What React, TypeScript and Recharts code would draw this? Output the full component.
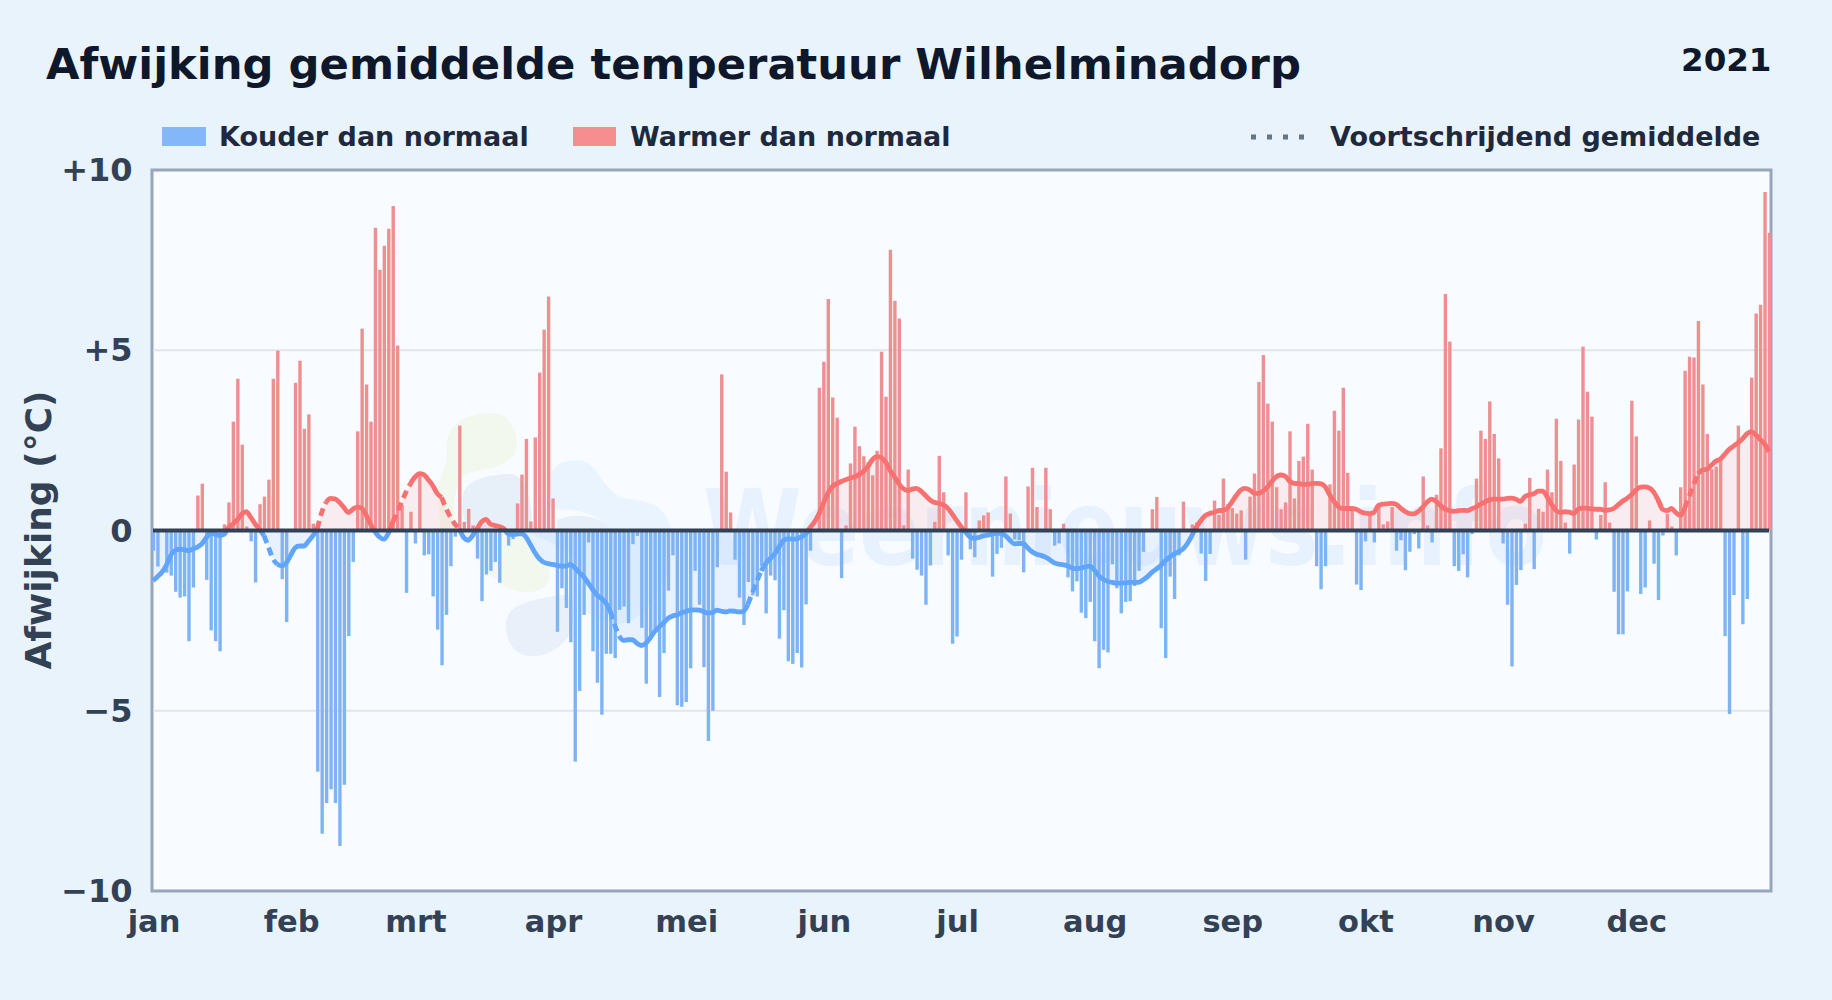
import React from "react";
import { ComposedChart, Bar, Area, Line, XAxis, YAxis, CartesianGrid, ReferenceLine } from "recharts";

const monthLabels = ["jan","feb","mrt","apr","mei","jun","jul","aug","sep","okt","nov","dec"];
const monthStarts = [0,31,59,90,120,151,181,212,243,273,304,334];
const yTicks = [-10,-5,0,5,10];
const yTickLabels: Record<string,string> = {"-10":"\u221210","-5":"\u22125","0":"0","5":"+5","10":"+10"};

const devJan = [-0.56,-1.0,0,-1.17,-1.25,-1.7,-1.86,-1.83,-3.07,-1.58,0.97,1.3,-1.37,-2.77,-3.07,-3.35,0.17,0.78,3.02,4.21,2.38,0.11,-0.3,-1.44,0.73,0.94,1.41,4.21,4.99,-1.35,-2.54];
const devFeb = [0,4.1,4.71,2.82,3.22,0.19,-6.69,-8.41,-7.56,-7.18,-7.56,-8.75,-7.05,-2.93,-0.87,2.75,5.6,4.05,3.02,8.4,7.23,7.9,8.37,9.0,5.13,0.7,-1.73,0.52];
const devMrt = [-0.36,1.58,-0.69,-0.66,-1.83,-2.75,-3.74,-2.34,-0.99,-0.17,2.91,0.24,0.6,0.14,-0.78,-1.96,-1.22,-1.12,-0.87,-1.45,0.05,-0.42,-0.24,0.75,1.55,2.54,0.25,2.58,4.38,5.57,6.49];
const devApr = [0.89,-2.81,-1.6,-2.15,-3.1,-6.41,-4.45,-2.34,-0.33,-3.35,-4.22,-5.11,-3.42,-3.42,-3.54,-2.2,-2.11,-2.57,-0.38,-0.15,-2.7,-4.25,-3.0,-2.75,-4.62,-3.4,-1.67,-0.69,-4.85,-4.89];
const devMei = [-4.76,-3.82,-1.12,-2.06,-3.79,-5.84,-5.0,-1.02,4.33,1.63,0.5,-0.81,-1.86,-2.62,-1.43,-1.8,-1.83,-0.99,-2.3,-1.25,-1.38,-3.0,-2.21,-3.63,-3.7,-3.4,-3.8,-2.05,-0.56,0,3.96];
const devJun = [4.68,6.42,3.69,3.13,-1.32,0.14,1.86,2.88,2.34,2.06,1.9,1.53,2.21,4.96,3.71,7.79,6.37,5.88,0.14,1.69,-0.78,-1.09,-1.25,-2.06,-0.97,0.24,2.07,1.06,-0.69,-3.14];
const devJul = [-2.94,-0.81,1.06,-0.52,-0.74,0.28,0.42,0.5,-1.28,-0.65,-0.48,1.5,0.47,-0.25,-0.27,-1.16,1.22,1.74,0.65,0,1.74,0.59,-0.42,-0.36,0.19,-1.3,-1.69,-1.41,-2.28,-2.43,-1.98];
const devAug = [-3.07,-3.82,-3.31,-3.38,-0.94,-1.6,-2.3,-1.98,-1.96,-1.54,-1.12,-0.59,0,0.59,0.93,-2.71,-3.54,-1.28,-1.9,-0.69,0.8,0,0.17,0.22,-0.64,-1.4,-0.65,0.83,0.43,1.44,0.73];
const devSep = [0.62,0.47,0.56,-0.81,0.94,1.58,4.12,4.87,3.52,3.02,1.2,0.59,0.78,2.75,0.89,1.93,2.05,2.96,1.69,-0.99,-1.63,-0.99,1.28,3.32,2.77,3.96,1.6,0.59,-1.5,-1.65];
const devOkt = [-0.3,0.43,-0.33,0.75,0.17,0.25,0.65,-0.56,-0.27,-1.1,-0.59,-0.1,-0.5,1.5,0.14,-0.33,0.99,2.28,6.56,5.24,-0.99,-1.12,-0.66,-1.3,-0.1,1.44,2.77,2.54,3.58,2.68,2.0];
const devNov = [-0.36,-2.06,-3.77,-1.51,-1.1,0.19,1.46,-1.07,0.6,0.52,1.69,1.06,3.1,1.93,0.22,-0.64,1.83,3.08,5.1,3.85,3.16,-0.25,0.43,1.34,0.22,-1.7,-2.88,-2.88,-1.69,3.6];
const devDec = [2.61,-1.76,-1.58,0.28,-0.92,-1.93,-0.14,0.46,0.11,-0.69,1.2,4.43,4.82,4.8,5.81,4.05,2.68,1.7,1.77,1.96,-2.93,-5.09,-1.79,2.91,-2.6,-1.9,4.24,6.02,6.26,9.39,8.26];

const avgQ1 = [-1.39,-1.28,-1.16,-0.97,-0.69,-0.55,-0.52,-0.53,-0.56,-0.51,-0.46,-0.37,-0.2,-0.08,-0.1,-0.14,-0.11,0.08,0.18,0.3,0.46,0.52,0.37,0.18,0.03,-0.14,-0.46,-0.78,-0.94,-0.98,-0.9,-0.69,-0.48,-0.43,-0.43,-0.3,-0.15,0.05,0.5,0.79,0.89,0.88,0.78,0.64,0.5,0.59,0.65,0.62,0.43,0.18,-0.03,-0.18,-0.24,-0.08,0.24,0.5,0.79,1.07,1.3,1.48,1.58,1.55,1.41,1.25,1.03,0.92,0.62,0.37,0.18,0.05,-0.2,-0.27,-0.14,0.05,0.24,0.31,0.18,0.14,0.11,0.05,-0.09,-0.11,-0.1,-0.09,-0.18,-0.39,-0.61,-0.78,-0.88,-0.92];
const avgQ2 = [-0.94,-0.97,-0.99,-0.99,-0.94,-1.03,-1.16,-1.28,-1.45,-1.63,-1.79,-1.88,-2.01,-2.24,-2.62,-2.93,-3.05,-3.03,-3.03,-3.13,-3.19,-3.13,-2.98,-2.8,-2.68,-2.56,-2.44,-2.37,-2.34,-2.29,-2.25,-2.21,-2.2,-2.21,-2.25,-2.29,-2.28,-2.21,-2.24,-2.26,-2.23,-2.24,-2.26,-2.24,-2.05,-1.73,-1.41,-1.12,-0.92,-0.78,-0.65,-0.46,-0.28,-0.23,-0.24,-0.23,-0.18,-0.1,0.08,0.24,0.46,0.75,1.03,1.22,1.3,1.36,1.41,1.45,1.49,1.55,1.64,1.77,1.96,2.05,2.02,1.9,1.68,1.49,1.3,1.16,1.11,1.15,1.17,1.09,0.97,0.85,0.78,0.76,0.71,0.62,0.46];
const avgQ3 = [0.28,0.11,-0.04,-0.18,-0.22,-0.19,-0.15,-0.13,-0.1,-0.08,-0.08,-0.14,-0.27,-0.37,-0.36,-0.36,-0.48,-0.59,-0.66,-0.69,-0.74,-0.81,-0.9,-0.93,-0.95,-0.98,-1.04,-1.06,-1.04,-1.01,-0.99,-1.09,-1.25,-1.35,-1.41,-1.44,-1.46,-1.46,-1.45,-1.44,-1.44,-1.44,-1.37,-1.28,-1.16,-1.07,-0.97,-0.84,-0.74,-0.65,-0.59,-0.51,-0.36,-0.14,0.09,0.27,0.41,0.47,0.5,0.55,0.56,0.62,0.79,0.97,1.12,1.17,1.13,1.04,1.03,1.09,1.2,1.36,1.49,1.54,1.51,1.37,1.31,1.3,1.28,1.28,1.3,1.31,1.3,1.22,1.0,0.81,0.66,0.61,0.61,0.61,0.59,0.52];
const avgQ4 = [0.48,0.47,0.5,0.69,0.73,0.74,0.75,0.73,0.62,0.53,0.47,0.46,0.53,0.65,0.79,0.87,0.81,0.69,0.6,0.55,0.53,0.55,0.56,0.55,0.6,0.65,0.73,0.79,0.85,0.87,0.87,0.87,0.89,0.9,0.87,0.81,0.94,0.99,1.02,1.09,1.09,0.94,0.73,0.56,0.5,0.52,0.51,0.47,0.59,0.62,0.62,0.6,0.59,0.59,0.56,0.57,0.61,0.71,0.81,0.89,0.99,1.12,1.2,1.21,1.18,1.07,0.85,0.59,0.55,0.61,0.5,0.42,0.62,0.94,1.26,1.58,1.68,1.7,1.81,1.92,1.98,2.11,2.25,2.34,2.43,2.54,2.68,2.74,2.66,2.53,2.4,2.19];

const dailyDeviation = [...devJan,...devFeb,...devMrt,...devApr,...devMei,...devJun,...devJul,...devAug,...devSep,...devOkt,...devNov,...devDec];
const movingAverage = [...avgQ1,...avgQ2,...avgQ3,...avgQ4];
const dottedRanges = [[25,28],[37,39],[54,58],[65,69],[103,105],[134,137],[339,340],[345,348]];

const inDotted = (i: number) => dottedRanges.some(([a,b]) => i >= a && i <= b);
const inDottedInner = (i: number) => dottedRanges.some(([a,b]) => i > a && i < b);

const rows = dailyDeviation.map((v, i) => {
  const avg = movingAverage[Math.min(i, movingAverage.length - 1)];
  return {
    day: i,
    warm: v > 0 ? v : null,
    cold: v < 0 ? v : null,
    avg,
    avgSolid: inDottedInner(i) ? null : avg,
    avgDotted: inDotted(i) ? avg : null,
  };
});

const W = 1832, H = 1000;
const font = "'DejaVu Sans', sans-serif";
const ink = "#0f172a", label = "#1e293b", tick = "#334155";
const coldBar = "#7fb4f4", warmBar = "#ee8f91", coldLine = "#60a5fa", warmLine = "#f87171";
const plot = { left: 153, right: 1769, top: 170, bottom: 891 };

const YTick = (p: any) => (
  <text x={132.5} y={p.y + 11} textAnchor="end" fontFamily={font} fontWeight={700} fontSize={32} fill={tick}>
    {yTickLabels[String(p.payload.value)]}
  </text>
);
const XTick = (p: any) => (
  <text x={p.x + 1} y={931.5} textAnchor="middle" fontFamily={font} fontWeight={700} fontSize={30.5} fill={tick}>
    {monthLabels[monthStarts.indexOf(p.payload.value)]}
  </text>
);

export default function App() {
  return (
    <div style={{ position: "absolute", left: 0, top: 0, width: W, height: H, background: "#e9f3fc", overflow: "hidden" }}>
      <svg width={W} height={H} style={{ position: "absolute", left: 0, top: 0 }}>
        <rect x={152} y={170} width={1619} height={721} fill="#f8fbff" stroke="#97a6ba" strokeWidth={3} />
        <path d="M438 485 C445 470 447 460 447 445 C447 425 465 413 490 413 C510 413 517 430 517 445 C517 462 495 468 468 473 C458 478 452 495 455 530 L440 530 Z" fill="#f3f8ee" />
        <path d="M470 535 C480 575 505 593 530 592 C550 590 555 575 545 560 C530 540 520 533 500 533 Z" fill="#f3f8ee" />
        <path d="M463 495 C465 480 490 474 510 474 C525 475 532 495 532 530 L470 530 C462 520 462 505 463 495 Z" fill="#e7eff9" />
        <path d="M548 480 C553 462 570 458 585 462 C600 468 600 485 620 497 C640 502 655 500 665 515 C672 525 670 530 668 530 L610 530 C600 515 580 507 548 510 Z" fill="#e9f4fe" />
        <path d="M557 520 C575 512 600 515 612 530 L557 530 Z" fill="#e7eff9" />
        <path d="M530 533 L668 533 C675 560 665 590 640 615 C620 630 600 625 585 610 C590 590 585 575 570 555 C555 540 540 540 530 533 Z" fill="#e9f4fe" />
        <path d="M506 625 C505 605 530 600 560 595 C575 592 575 610 572 630 C560 655 530 663 515 650 C508 642 506 635 506 625 Z" fill="#e9f0f9" />
        <text x={703} y={565} fontFamily={font} fontWeight={700} fontSize={106} textLength={844} lengthAdjust="spacingAndGlyphs" fill="#3b82f6" opacity={0.08}>Weernieuws.info</text>

        <text x={46} y={79} fontFamily={font} fontWeight={700} fontSize={43.3} fill={ink}>Afwijking gemiddelde temperatuur Wilhelminadorp</text>
        <text x={1771.5} y={70.5} textAnchor="end" fontFamily={font} fontWeight={700} fontSize={32.5} fill={ink}>2021</text>

        <rect x={162} y={127} width={44} height={19} fill="#83b7fa" />
        <text x={219} y={146} fontFamily={font} fontWeight={700} fontSize={27} fill={label}>Kouder dan normaal</text>
        <rect x={573} y={127} width={43} height={19} fill="#f68d8e" />
        <text x={630} y={146} fontFamily={font} fontWeight={700} fontSize={27} fill={label}>Warmer dan normaal</text>
        <line x1={1251} y1={137} x2={1310} y2={137} stroke="#64748b" strokeWidth={5} strokeDasharray="5 11" />
        <text x={1330} y={146} fontFamily={font} fontWeight={700} fontSize={27} fill={label}>Voortschrijdend gemiddelde</text>

        <text transform="translate(51 530) rotate(-90)" textAnchor="middle" fontFamily={font} fontWeight={700} fontSize={36} fill={tick}>Afwijking (°C)</text>
      </svg>

      <div style={{ position: "absolute", left: 0, top: 0 }}>
        <ComposedChart width={W} height={H} data={rows} barGap={0}
          margin={{ left: 0, right: W - plot.right, top: plot.top, bottom: 0 }}>
          <defs>
            <linearGradient id="avgStroke" gradientUnits="userSpaceOnUse" x1={0} y1={plot.top} x2={0} y2={plot.bottom}>
              <stop offset="50%" stopColor={warmLine} />
              <stop offset="50%" stopColor={coldLine} />
            </linearGradient>
            <linearGradient id="avgFill" gradientUnits="userSpaceOnUse" x1={0} y1={plot.top} x2={0} y2={plot.bottom}>
              <stop offset="50%" stopColor="#f87171" stopOpacity={0.18} />
              <stop offset="50%" stopColor="#60a5fa" stopOpacity={0.18} />
            </linearGradient>
          </defs>
          <CartesianGrid horizontal vertical={false} stroke="#e2e6ea" strokeWidth={2} horizontalValues={[-5,5]} />
          <XAxis dataKey="day" type="number" domain={[0,364]} ticks={monthStarts} interval={0} axisLine={false} tickLine={false}
            height={H - plot.bottom} tick={XTick} />
          <YAxis type="number" domain={[-10,10]} ticks={yTicks} interval={0} axisLine={false} tickLine={false} width={plot.left} tick={YTick} />
          <Bar dataKey="warm" stackId="d" fill={warmBar} barSize={3.4} isAnimationActive={false} />
          <Bar dataKey="cold" stackId="d" fill={coldBar} barSize={3.4} isAnimationActive={false} />
          <Area dataKey="avg" type="monotone" baseValue={0} stroke="none" fill="url(#avgFill)" dot={false} activeDot={false} isAnimationActive={false} />
          <Line dataKey="avgSolid" type="monotone" stroke="url(#avgStroke)" strokeWidth={4.8} dot={false} activeDot={false} isAnimationActive={false} />
          <Line dataKey="avgDotted" type="monotone" stroke="url(#avgStroke)" strokeWidth={4.8} strokeDasharray="8 5" dot={false} activeDot={false} isAnimationActive={false} />
          <ReferenceLine y={0} stroke="#334155" strokeWidth={4.2} />
        </ComposedChart>
      </div>
    </div>
  );
}
